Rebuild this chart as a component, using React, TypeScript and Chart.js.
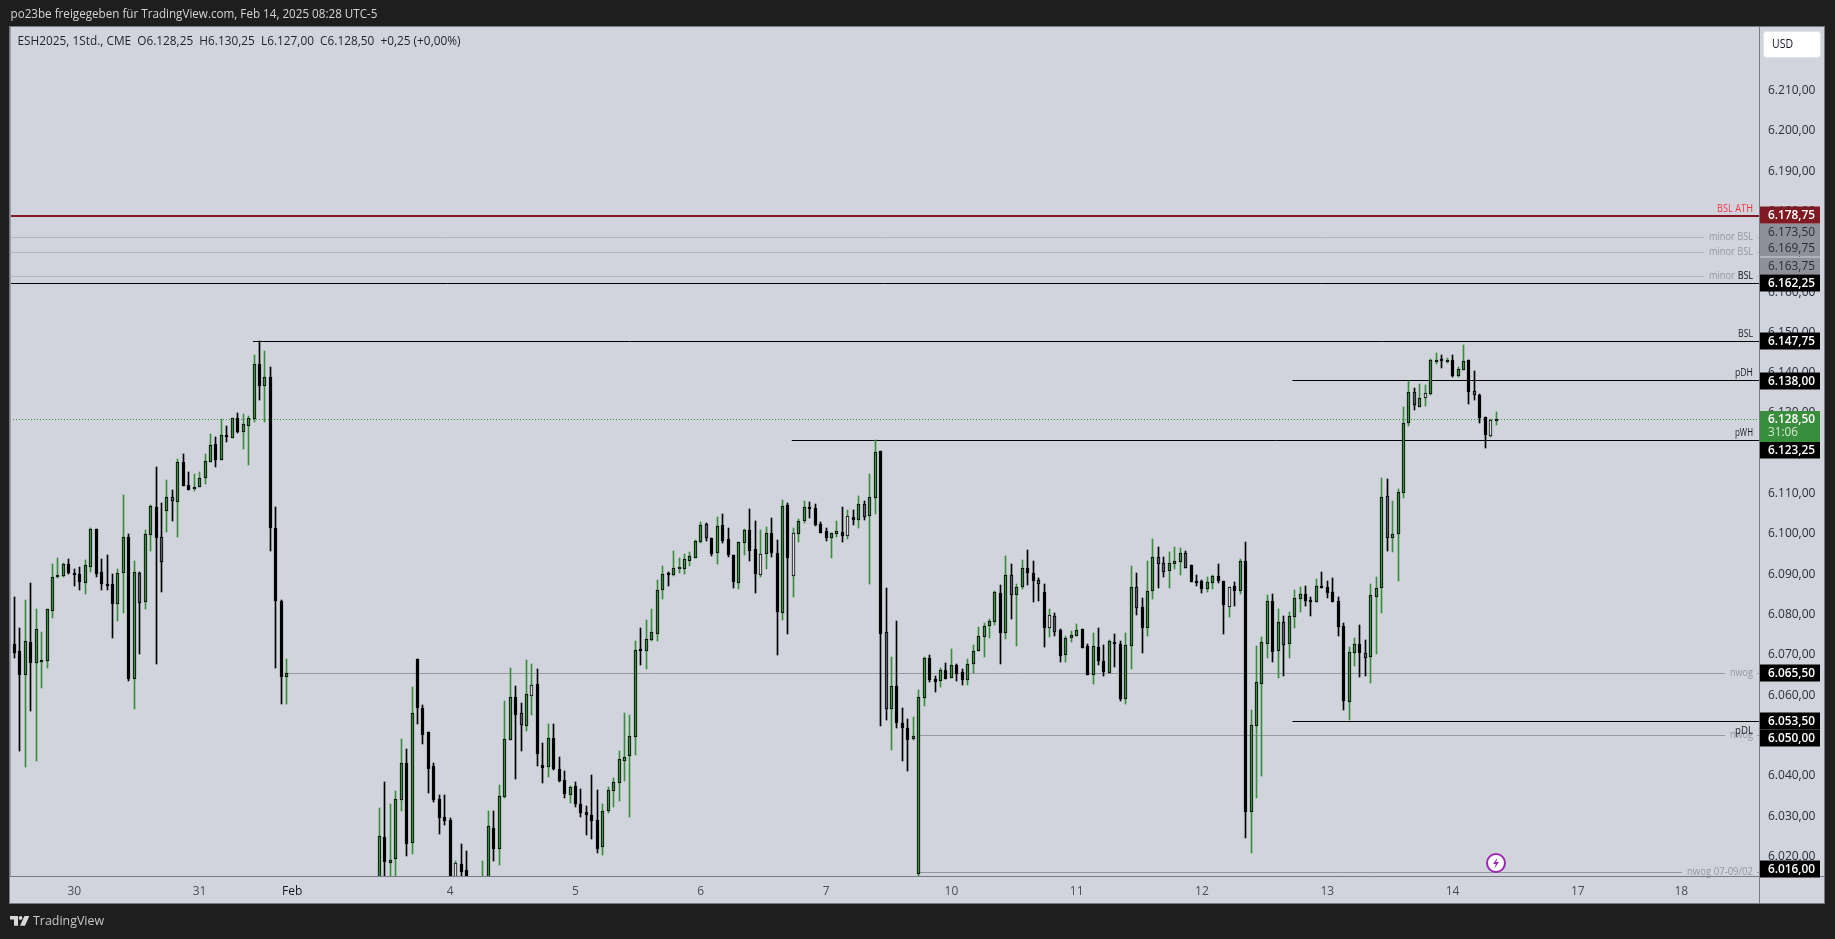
import React, { useEffect, useRef } from "react";
import { Chart, registerables } from "chart.js";

Chart.register(...registerables);

const N = null;
const none9 = [N, N, N, N, N, N, N, N, N];
const none7 = [N, N, N, N, N, N, N];

const opens = [
  6072.75,6071,6065,6073.25,6068,6068.25,6068.5,6081,6089.25,6089.5,
  6092.5,6090.25,6090,6087.75,6091.75,6101.25,6090.5,6087.5,6087.5,6082.75,
  6090.25,6099.25,6064,6090.25,6083.25,6099.75,6106.75,6099.25,6105.75,6109.25,
  6108,6117.75,6112.25,6111.25,6111.75,6114,6117.75,6122.25,6118.25,6124.5,
  6123.75,6128.75,6125.25,6126.75,6128.5,6142.25,6136.75,6139,6101.5,6083.5,
  6064.5,...none9,
  ...none7,6012,6024.75,6018.5,
  6019.5,6034,6043.25,6023.25,6069,6056.75,6051,6042.5,6034.25,6029.75,
  6029,6012,6018.25,6016.75,N,N,6010,6012,6027,6022,
  6034.75,6049,6059.5,6055.5,6052.5,6059.75,6062.75,6042.75,6042.25,6049.5,
  6041.75,6039,6035.25,6037.5,6033,6031,6030.25,6029,6022.25,6031.25,
  6036.25,6038.25,6043.75,6045,6049.75,6071.5,6071,6073.75,6075.25,6086,
  6090.25,6089.75,6091.25,6091.25,6093.25,6094,6098,6102.5,6099,6095.25,
  6102.25,6098.75,6094.75,6087.75,6097.75,6101,6096.25,6089.75,6095,6100.25,
  6095.25,6080.5,6107.25,6089.5,6100,6103.25,6106.75,6106.5,6102.5,6100.75,
  6099,6100,6100.5,6099.5,6104.25,6103.5,6107.5,6104.5,6109,6120.5,
  6075.75,6056.5,6062.25,6053.25,6052,6049.25,6015.75,6059.25,6069.25,6064,
  6063.5,6066.25,6064.25,6067.5,6065.75,6063.75,6067.75,6071,6074.5,6077.25,
  6078.25,6085.25,6075.5,6089.75,6084.75,6086.75,6091.5,6090.25,6088.5,6085.5,
  6076.75,6079.75,6076.25,6070,6074.25,6074.75,6076.5,6072.25,6065,6072,
  6068.5,6065.5,6073.25,6072.75,6059,6072.25,6086.75,6082,6076.75,6085.75,
  6094.25,6092.75,6090.75,6092.5,6093,6095.25,6092.25,6088.25,6088.25,6086.25,
  6087.75,6089.5,6088.25,6082,6087,6085.75,6093.25,6031,6052.5,6062.75,
  6072.75,6083.5,6071,6078.25,6072.75,6079.5,6084,6085,6083.75,6083.25,
  6087,6086.75,6085.5,6083.5,6077.25,6058.25,6070.5,6072.75,6070.5,6069.5,
  6084.5,6086.5,6109.5,6099,6100,6110.25,6127.5,6135.25,6131.5,6133.75,
  6134.75,6143,6143.5,6143,6143.25,6139.25,6140.75,6143.25,6135.5,6134.5,
  6129,6124.25,6128.25,
];

const highs = [
  6084.5,6076.75,6083.75,6087.75,6081.5,6075.75,6081.5,6092.5,6094,6092.75,
  6093.75,6091.25,6091.75,6093.5,6101.5,6101.25,6093.75,6094.75,6090,6091.25,
  6109.75,6100,6093.25,6090.5,6101,6107.25,6116.5,6107.75,6113.5,6111,
  6118.5,6119.75,6115.5,6115,6115.5,6119.75,6124.75,6124,6128.5,6126.75,
  6128.75,6130,6129.75,6129.25,6144.5,6147.75,6145.5,6141.5,6106.75,6083.75,
  6069,...none9,
  ...none7,6032,6038.5,6033,
  6036.25,6049.25,6046.75,6062,6069,6057.5,6051,6043.25,6035.25,6035.25,
  6029.5,6019,6023,6021.5,N,N,6019,6031.25,6031.25,6037.75,
  6058.5,6066.75,6062.25,6058,6068.75,6067.75,6066.5,6048.25,6053,6053,
  6044.75,6041.25,6037.5,6038.5,6036.75,6032.5,6040.25,6036.5,6033,6037.25,
  6039.5,6046.25,6055.5,6055,6073.5,6076.75,6078.75,6081.5,6088.5,6092,
  6090.5,6095.75,6094,6095,6095.5,6098.5,6103,6102.75,6099,6104.25,
  6105,6101.5,6094.75,6098,6101.25,6106.25,6103.25,6101,6101.75,6104,
  6098.5,6108.5,6107.75,6101.5,6103.75,6108.25,6108,6107.5,6103,6101.5,
  6100.25,6103.25,6106.75,6106,6106,6109.5,6108.25,6115,6123.25,6120.5,
  6086.5,6069.5,6078.5,6056.75,6054,6054.5,6061.25,6069.5,6070,6064.75,
  6066.75,6068,6071.5,6067.75,6066.5,6069,6072.5,6077,6078,6079,
  6085.75,6087.25,6094.5,6092.5,6087.5,6093.5,6096,6093.25,6089,6087.5,
  6081.5,6080.5,6076.5,6074.75,6076,6077.75,6076.5,6072.75,6075.5,6076.75,
  6072.5,6073.75,6075.25,6073.5,6075.5,6092,6090.25,6084.25,6093.25,6098.75,
  6096.75,6094.25,6095.5,6096.75,6096.5,6095.75,6092.25,6089.75,6088.5,6089.25,
  6089.75,6092.5,6088.25,6086.75,6088,6093.75,6098,6056.25,6072.25,6074.5,
  6084.75,6085,6081.5,6079.75,6080.75,6086,6086.75,6087,6084.5,6088.75,
  6090.5,6088.25,6089,6084.5,6078,6072,6074.25,6077.5,6073.75,6087.5,
  6089.25,6114,6113.75,6108.25,6111.25,6131.5,6138,6136.25,6137.25,6137,
  6143.5,6145,6144.5,6143.75,6144.5,6141.5,6147,6143.25,6140.5,6134.75,
  6129,6128.5,6130.25,
];

const lows = [
  6069.25,6046.25,6042.25,6056,6043.75,6061.75,6066.75,6079.25,6089,6089.25,
  6090,6087,6086,6085,6090.5,6089.25,6086,6086,6074.25,6078.5,
  6080.5,6063.5,6056.5,6070.25,6081.5,6095.75,6067.75,6085.5,6100.5,6103.25,
  6099.25,6112,6111,6110.75,6111.75,6112.5,6117.75,6116.5,6118.25,6122.75,
  6123.75,6125,6121,6117,6127.75,6133.25,6127.75,6095.75,6066.75,6057.75,
  6057.75,...none9,
  ...none7,6008,6012,6012,
  6012,6031.25,6020.25,6020.75,6053,6048,6035.75,6033.5,6025.5,6027.75,
  6010,6010,6012,6010,N,N,6008,6010,6019,6018,
  6034.5,6049,6039.25,6046.25,6051.25,6055,6042.5,6038.25,6039.75,6041.5,
  6038.5,6034.5,6033.25,6032.25,6029.75,6025.25,6024.25,6021,6020.5,6030.75,
  6032.25,6033.75,6038.75,6029.75,6045.25,6067.5,6066.5,6073.5,6073.5,6084,
  6087,6089.5,6090.25,6090,6092,6094,6097.75,6098.25,6094.5,6092.5,
  6097.75,6094.25,6086.5,6086.25,6094.75,6093.25,6085.25,6089.25,6091.25,6094.25,
  6070,6078.75,6075.25,6084.5,6098,6102.75,6104,6102,6100.25,6098.25,
  6094,6099.25,6098,6098.75,6102.25,6101.5,6103.5,6087.5,6105,6052.5,
  6053.75,6046.5,6052,6043.75,6041.25,6049,6014.75,6057.25,6063.25,6060.75,
  6062,6064,6064.25,6063.5,6062.5,6062.5,6065.5,6071,6069.5,6074.25,
  6077.5,6067.75,6074,6079,6072.25,6086.25,6087.25,6083.25,6083.5,6072,
  6074.5,6074.75,6068.25,6068.25,6073.25,6074.75,6071.75,6065,6062.75,6067.5,
  6064.75,6065.5,6067,6058.5,6057.75,6066.5,6080,6070.5,6074.75,6084,
  6086.5,6089.25,6086.5,6091.25,6089.75,6091.5,6088,6087,6085.25,6085.5,
  6086.25,6087.75,6075.25,6079.5,6082.25,6085,6024.5,6021,6034.5,6040,
  6069.25,6068.25,6064.25,6064.75,6069.25,6076.75,6080.75,6082.25,6079.75,6083.25,
  6086.5,6084.25,6083.25,6074.75,6056.25,6053.75,6067.25,6064.5,6064.75,6063,
  6070.25,6080.5,6095.75,6095.5,6088.25,6109,6126.75,6130.75,6131.5,6131.75,
  6134.5,6142.25,6141.25,6142.5,6139,6139,6140.75,6132.25,6133.25,6127.5,
  6121.25,6124,6127,
];

const closes = [
  6070.5,6065,6073.5,6068,6076.5,6068.75,6081.5,6089.25,6089.75,6092.5,
  6090.25,6089.75,6088,6092.25,6101.25,6090,6087.5,6087,6082.75,6090.25,
  6099.25,6064,6090.5,6083,6100,6107,6099,6093,6109.25,6108.25,
  6117.75,6112,6111,6111.75,6114,6118,6122,6118.25,6124.5,6124,
  6128.75,6125.25,6127.25,6128.75,6142.25,6136.75,6139,6101.5,6083.5,6064.5,
  6065.5,...none9,
  ...none7,6025,6018.75,6019.25,
  6034.25,6043.25,6023,6055.5,6056.75,6050.25,6041.75,6034,6029.5,6028.75,
  6012,6018.5,6016.25,6012,N,N,6013,6027.5,6022,6035,
  6049.25,6059.5,6055,6052.75,6060.25,6062.5,6045.5,6042,6049.5,6041.75,
  6038.75,6035.5,6037.25,6033,6030.75,6030.25,6028.75,6022,6031.25,6036.5,
  6038.5,6044.25,6044.75,6050,6071.25,6071,6074,6075.75,6086,6090,
  6089.75,6091.5,6091.75,6093.75,6094.5,6098.25,6102.25,6099,6095,6102,
  6098.25,6094.75,6088,6098,6101,6095.75,6090,6095,6100.25,6095.25,
  6080.75,6107,6094,6100.25,6103.25,6106.75,6106.25,6102.25,6100.25,6099,
  6100.25,6100.75,6099.5,6104.5,6103.5,6107.5,6104.25,6109.25,6120.25,6075.25,
  6056.5,6062.25,6053.25,6052,6049,6050,6059.5,6069.25,6063.75,6063.25,
  6066.25,6064,6067.5,6065.25,6063.75,6067.75,6071,6074.75,6077.25,6078.5,
  6085.5,6075.5,6089.75,6084.75,6086.75,6091.5,6090.25,6088.25,6087.5,6076.75,
  6080,6075.75,6069.75,6074.25,6075,6076.25,6071.75,6065,6072.25,6068.5,
  6065.75,6073.5,6072.75,6059,6072.5,6086.75,6081.75,6076.75,6085.75,6094.25,
  6092.5,6090.5,6092.75,6093.25,6095.25,6091.5,6088,6087.75,6086.25,6088,
  6089.5,6088.25,6082.5,6086.75,6085.75,6093.25,6031,6052.75,6063.25,6073.25,
  6083.5,6070.75,6078.25,6072.5,6079.75,6084.25,6085,6083.5,6083.25,6087,
  6086.5,6085.25,6083.25,6077,6058.5,6070.75,6072.75,6070.5,6069.25,6084.75,
  6086.5,6109.25,6099,6100,6110.5,6127.5,6135.25,6132,6133.75,6135,
  6143.25,6143.25,6143,6143.25,6139.25,6141,6143,6135.25,6134.5,6128.75,
  6124.5,6128.25,6128.5,
];

const grayBars = [23, 27, 29, 93, 127, 156, 160, 183, 188, 191, 206, 210, 211, 215, 233, 248, 252, 257, 268];
const hollowBars = [81, 95, 137, 143, 153, 190, 223, 259, 271];

const priceTicks = [6020, 6030, 6040, 6050, 6060, 6070, 6080, 6090, 6100, 6110, 6120, 6130, 6140, 6150, 6160, 6170, 6180, 6190, 6200, 6210];
const dayTicks = [11, 34, 51, 80, 103, 126, 149, 172, 195, 218, 241, 264, 287, 306];
const dayLabels = ["30", "31", "Feb", "4", "5", "6", "7", "10", "11", "12", "13", "14", "17", "18"];

const X_MIN = -0.8077;
const X_MAX = 320.25;
const Y_MIN = 6015.18;
const Y_MAX = 6225.5;

// level lines: price, first bar, label
const levelPrices = [6178.75, 6173.5, 6169.75, 6163.75, 6162.25, 6147.75, 6138, 6123.25, 6065.5, 6053.5, 6050, 6016, 6128.5];
const levelStarts = [X_MIN, X_MIN, X_MIN, X_MIN, X_MIN, 43.8, 234.6, 142.7, 50, 234.6, 166, 166, X_MIN];
const levelLabels = ["BSL ATH", "minor BSL", "minor BSL", "minor BSL", "BSL", "BSL", "pDH", "pWH", "nwog", "pDL", "nwog", "nwog 07-09/02", ""];
const levelKinds = ["red", "soft", "soft", "soft", "black", "black", "black", "black", "mid", "black", "mid", "mid", "dot"];

const boxPrices = [6173.5, 6169.75, 6163.75, 6178.75, 6162.25, 6147.75, 6138, 6123.25, 6065.5, 6053.5, 6050, 6016];
const boxNudges = [-6, -4.5, -11, -1, 0, 0, 0, 10, 0, 0, 2, -4];
const boxKinds = ["gray", "gray", "gray", "red", "black", "black", "black", "black", "black", "black", "black", "black"];

const formatPrice = (v: number) => {
  const whole = Math.floor(v);
  const th = Math.floor(whole / 1000);
  const rest = String(whole % 1000).padStart(3, "0");
  const frac = String(Math.round((v - whole) * 100)).padStart(2, "0");
  return `${th}.${rest},${frac}`;
};

const FONT = '"Open Sans", sans-serif';
const GREEN = "#388e3c";
const RED = "#801922";

const levelStyle: Record<string, any> = {
  red: { color: RED, width: 2 },
  soft: { color: "#b2b5be", width: 1 },
  mid: { color: "#9598a1", width: 1 },
  black: { color: "#000000", width: 1 },
  dot: { color: GREEN, width: 1, dash: [1, 2] },
};

const visible = opens.map((_, i) => i).filter((i) => opens[i] !== null);
const wickData = visible.map((i) => ({ x: i, y: [lows[i], highs[i]] }));
const bodyData = visible.map((i) => ({ x: i, y: [opens[i], closes[i]] }));
const isUp = (i: number) => (closes[i] as number) >= (opens[i] as number);
const wickColors = visible.map((i) => (isUp(i) ? GREEN : "#000000"));
const bodyColors = visible.map((i) =>
  grayBars.includes(i) ? "#565962" : hollowBars.includes(i) ? "#d9e2da" : isUp(i) ? GREEN : "#000000"
);

const lineSets = levelPrices.map((p, k) => {
  const st = levelStyle[levelKinds[k]];
  return {
    type: "line",
    data: [{ x: levelStarts[k], y: p }, { x: X_MAX, y: p }],
    borderColor: st.color,
    borderWidth: st.width,
    borderDash: st.dash || [],
    pointRadius: 0,
    tension: 0,
    order: 5,
    _lw: st.width,
  };
});

const snapPlugin = {
  id: "snap",
  beforeDatasetsDraw(chart: any) {
    chart.getSortedVisibleDatasetMetas().forEach((meta: any) => {
      if (meta.type === "bar") {
        meta.data.forEach((el: any) => {
          el.x = Math.floor(el.x) + 0.5;
          let top = Math.round(Math.min(el.y, el.base));
          let bot = Math.round(Math.max(el.y, el.base));
          if (bot - top < 2) bot = top + 2;
          el.y = top;
          el.base = bot;
        });
      } else if (meta.type === "line") {
        const lw = chart.data.datasets[meta.index]._lw;
        meta.data.forEach((p: any) => {
          p.y = lw === 2 ? Math.round(p.y) : Math.floor(p.y) + 0.5;
        });
      }
    });
  },
};

const framePlugin = {
  id: "frame",
  beforeDraw(chart: any) {
    const c = chart.ctx;
    c.save();
    c.fillStyle = "#1e1e1e";
    c.fillRect(0, 0, chart.width, chart.height);
    c.fillStyle = "#d1d4dc";
    c.fillRect(9, 26, 1816, 878);
    c.restore();
  },
  afterDraw(chart: any) {
    const c = chart.ctx;
    const y = chart.scales.y;
    c.save();

    // frame and axis rules
    c.strokeStyle = "#787b86";
    c.lineWidth = 1;
    c.strokeRect(9.5, 26.5, 1815, 877);
    c.beginPath();
    c.moveTo(1759.5, 27);
    c.lineTo(1759.5, 903);
    c.moveTo(10, 876.5);
    c.lineTo(1824, 876.5);
    c.stroke();
    c.fillStyle = "#9a9da6";
    c.fillRect(10, 27, 1, 849);

    c.textBaseline = "middle";
    const text = (t: string, x: number, yy: number, font: string, color: string, align: any = "left", maxW?: number) => {
      c.font = font;
      c.fillStyle = color;
      c.textAlign = align;
      if (maxW) c.fillText(t, x, yy, maxW);
      else c.fillText(t, x, yy);
    };

    // header, legend, footer
    text("po23be freigegeben für TradingView.com, Feb 14, 2025 08:28 UTC-5", 10.5, 15, `12px ${FONT}`, "#d4d4d4", "left", 367);
    text("ESH2025, 1Std., CME  O6.128,25  H6.130,25  L6.127,00  C6.128,50  +0,25 (+0,00%)", 17.5, 41.5, `12px ${FONT}`, "#1f2228", "left", 443);
    text("TradingView", 33, 921, `13px ${FONT}`, "#c8c8c8", "left", 71);

    c.fillStyle = "#d8d8d8";
    c.beginPath();
    c.moveTo(10, 916); c.lineTo(18, 916); c.lineTo(18, 925.7); c.lineTo(14, 925.7); c.lineTo(14, 919.5); c.lineTo(10, 919.5);
    c.closePath(); c.fill();
    c.beginPath(); c.arc(20.6, 917.9, 1.9, 0, Math.PI * 2); c.fill();
    c.beginPath();
    c.moveTo(24.5, 916); c.lineTo(29.3, 916); c.lineTo(25, 925.7); c.lineTo(20, 925.7);
    c.closePath(); c.fill();

    // USD button
    c.fillStyle = "#ffffff";
    c.strokeStyle = "#e0e3eb";
    c.beginPath();
    c.roundRect(1763.5, 31.5, 57, 26, 3);
    c.fill();
    c.stroke();
    text("USD", 1772, 44.5, `12px ${FONT}`, "#131722", "left", 21);

    // line labels
    const order = levelLabels.map((_, k) => k).sort((a, b) => (levelKinds[a] === "black" ? 1 : 0) - (levelKinds[b] === "black" ? 1 : 0));
    order.forEach((k) => {
      const label = levelLabels[k];
      if (!label) return;
      const kind = levelKinds[k];
      const py = Math.floor(y.getPixelForValue(levelPrices[k])) + 0.5;
      const font = `11px ${FONT}`;
      if (kind === "soft" || kind === "mid") {
        c.font = font;
        const w = label === "minor BSL" ? 44 : label === "nwog" ? 23 : 66;
        c.fillStyle = "#d1d4dc";
        c.fillRect(1753 - w - 5, py - 1.5, w + 9, 3);
        text(label, 1753, py - 0.5, font, "#9598a1", "right", w);
      } else if (kind === "red") {
        text(label, 1753, py - 7.5, font, "#f23645", "right", 36);
      } else {
        const dy = label === "pDL" ? 9 : -8;
        text(label, 1753, py + dy, font, "#1d1f26", "right", label === "BSL" ? 15 : 18);
      }
    });

    // price boxes
    const bw = 60;
    const bh = 17;
    boxKinds.forEach((kind, k) => {
      const cy = Math.round(y.getPixelForValue(boxPrices[k]) + boxNudges[k]);
      c.fillStyle = kind === "gray" ? "#8f919a" : kind === "red" ? RED : "#000000";
      c.fillRect(1760, cy - 8.5, bw, bh);
      const color = kind === "gray" ? "#2a2e39" : "#ffffff";
      const font = kind === "gray" ? `12px ${FONT}` : `600 12px ${FONT}`;
      text(formatPrice(boxPrices[k]), 1768, cy + 0.5, font, color, "left", 47);
    });

    // last price box with countdown
    c.fillStyle = GREEN;
    c.fillRect(1760, 411, bw, 31);
    text(formatPrice(closes[closes.length - 1] as number), 1768, 419.5, `600 12px ${FONT}`, "#ffffff", "left", 47);
    text("31:06", 1768, 432.5, `12px ${FONT}`, "#d5e8d6", "left", 30);

    // purple marker
    c.beginPath();
    c.arc(1496, 863, 9, 0, Math.PI * 2);
    c.fillStyle = "#ffffff";
    c.fill();
    c.lineWidth = 2;
    c.strokeStyle = "#9c27b0";
    c.stroke();
    c.fillStyle = "#9c27b0";
    c.beginPath();
    c.moveTo(1497.5, 857.5); c.lineTo(1493, 864); c.lineTo(1495.8, 864); c.lineTo(1494.5, 868.5); c.lineTo(1499, 862); c.lineTo(1496.2, 862);
    c.closePath();
    c.fill();
    c.restore();
  },
};

export default function App() {
  const ref = useRef<HTMLCanvasElement | null>(null);
  useEffect(() => {
    document.body.style.margin = "0";
    document.body.style.background = "#1e1e1e";
    const chart = new Chart(ref.current as any, {
      type: "bar",
      data: {
        datasets: [
          ...lineSets,
          {
            data: wickData,
            backgroundColor: wickColors,
            borderWidth: 0,
            barThickness: 1,
            grouped: false,
            order: 3,
          },
          {
            data: bodyData,
            backgroundColor: bodyColors,
            borderColor: "#000000",
            borderWidth: 1,
            borderSkipped: false,
            barThickness: 3,
            grouped: false,
            order: 1,
          },
        ] as any,
      },
      options: {
        animation: false,
        responsive: false,
        devicePixelRatio: 1,
        layout: { padding: { left: 10, top: 28, right: 11, bottom: 36 } },
        plugins: { legend: { display: false }, tooltip: { enabled: false }, title: { display: false } },
        scales: {
          x: {
            type: "linear",
            offset: false,
            min: X_MIN,
            max: X_MAX,
            grid: { display: false },
            border: { display: false },
            afterFit: (s: any) => { s.height = 27; },
            afterBuildTicks: (s: any) => { s.ticks = dayTicks.map((value) => ({ value })); },
            ticks: {
              autoSkip: false,
              maxRotation: 0,
              padding: 0,
              font: { family: FONT, size: 12 },
              color: (ctx: any) => (ctx.tick && dayLabels[dayTicks.indexOf(ctx.tick.value)] === "Feb" ? "#131722" : "#4a4d57"),
              callback: (v: any) => dayLabels[dayTicks.indexOf(v)] ?? "",
            },
          },
          y: {
            position: "right",
            min: Y_MIN,
            max: Y_MAX,
            grid: { display: false, drawTicks: false },
            border: { display: false },
            afterFit: (s: any) => { s.width = 65; },
            afterBuildTicks: (s: any) => { s.ticks = priceTicks.map((value) => ({ value })); },
            ticks: {
              autoSkip: false,
              padding: 9,
              font: { family: FONT, size: 12 },
              color: "#2a2e39",
              callback: (v: any) => formatPrice(v),
            },
          },
        },
      } as any,
      plugins: [snapPlugin, framePlugin],
    } as any);
    return () => chart.destroy();
  }, []);
  return <canvas ref={ref} width={1835} height={939} style={{ display: "block" }} />;
}
